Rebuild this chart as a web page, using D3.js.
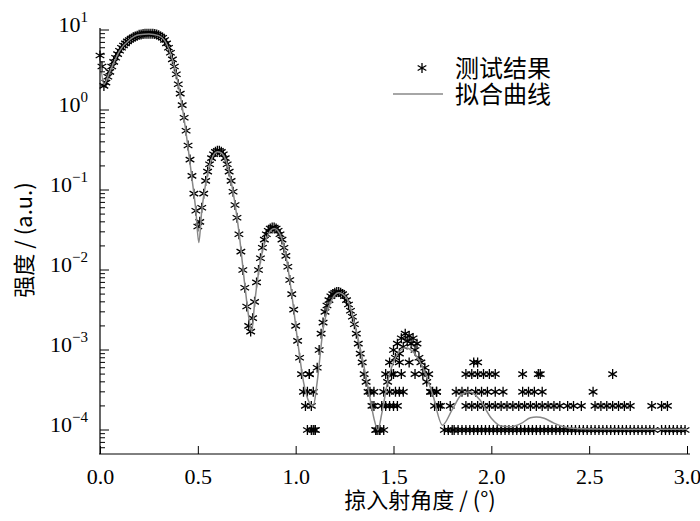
<!DOCTYPE html>
<html>
<head>
<meta charset="utf-8">
<script src="https://cdn.jsdelivr.net/npm/d3@7"></script>
<style>
  body { margin: 0; background: #fff; }
  text { font-family: "Liberation Serif", serif; }
  .cjk { font-family: "Noto Sans CJK SC", sans-serif; }
</style>
</head>
<body>
<svg></svg>
<script>
// canvas
const w = 700, h = 521;
const plotLeft = 100, plotRight = 687, plotTop = 30, plotBottom = 454;

// measured data: x (deg), intensity (a.u.)
const dataX = [0.00,0.01,0.02,0.03,0.04,0.05,0.06,0.07,0.08,0.09,0.10,0.11,0.12,0.13,0.14,0.15,0.16,0.17,0.18,0.19,
  0.20,0.21,0.22,0.23,0.24,0.25,0.26,0.27,0.28,0.29,0.30,0.31,0.32,0.33,0.34,0.35,0.36,0.37,0.38,0.39,
  0.40,0.41,0.42,0.43,0.44,0.45,0.46,0.47,0.48,0.49,0.50,0.51,0.52,0.53,0.54,0.55,0.56,0.57,0.58,0.59,
  0.60,0.61,0.62,0.63,0.64,0.65,0.66,0.67,0.68,0.69,0.70,0.71,0.72,0.73,0.74,0.75,0.76,0.77,0.78,0.79,
  0.80,0.81,0.82,0.83,0.84,0.85,0.86,0.87,0.88,0.89,0.90,0.91,0.92,0.93,0.94,0.95,0.96,0.97,0.98,0.99,
  1.00,1.01,1.02,1.03,1.04,1.05,1.06,1.07,1.08,1.09,1.10,1.11,1.12,1.13,1.14,1.15,1.16,1.17,1.18,1.19,
  1.20,1.21,1.22,1.23,1.24,1.25,1.26,1.27,1.28,1.29,1.30,1.31,1.32,1.33,1.34,1.35,1.36,1.37,1.38,1.39,
  1.40,1.41,1.42,1.43,1.44,1.45,1.46,1.47,1.48,1.49,1.50,1.51,1.52,1.53,1.54,1.55,1.56,1.57,1.58,1.59,
  1.60,1.61,1.62,1.63,1.64,1.65,1.66,1.67,1.68,1.69,1.70,1.71,1.72,1.73,1.74];
const dataY = [4.8,3.5,2.0,2.2,2.6,3.0,3.5,4.0,4.5,5.0,5.5,6.0,6.4,6.8,7.2,7.5,7.8,8.1,8.3,8.5,
  8.7,8.8,8.9,9.0,9.0,9.0,9.0,9.0,8.9,8.8,8.6,8.3,8.0,7.5,6.8,6.0,5.2,4.3,3.5,2.8,
  2.1,1.6,1.15,0.8,0.55,0.36,0.24,0.15,0.09,0.055,0.035,0.04,0.06,0.09,0.13,0.17,0.21,0.25,0.28,0.30,
  0.31,0.31,0.30,0.28,0.25,0.21,0.17,0.13,0.095,0.065,0.045,0.028,0.017,0.01,0.006,0.0035,0.002,0.0017,0.0025,0.004,
  0.007,0.01,0.014,0.019,0.024,0.028,0.031,0.033,0.034,0.034,0.033,0.031,0.028,0.024,0.019,0.015,0.011,0.0075,0.005,0.0032,
  0.002,0.0013,0.0008,0.0005,0.0003,0.0002,0.0003,0.0005,0.0002,0.0001,0.0001,0.0006,0.001,0.0016,0.0022,0.003,0.0036,0.0042,0.0047,0.005,
  0.0052,0.0053,0.0053,0.0052,0.005,0.0047,0.0042,0.0037,0.0031,0.0026,0.0021,0.0016,0.0012,0.0009,0.0007,0.0005,0.0004,0.0003,0.0003,0.0002,
  0.0002,0.0001,0.0001,0.0001,0.0002,0.0003,0.0005,0.0004,0.0007,0.0005,0.001,0.0008,0.0012,0.0009,0.0014,0.0011,0.0016,0.0013,0.0015,0.0012,
  0.0014,0.001,0.0012,0.0008,0.0007,0.0005,0.0006,0.0004,0.0005,0.0003,0.0003,0.0002,0.0003,0.0002,0.0002];

// noisy tail, read row by row (x values at each level)
const tail1e4 = [1.06,1.08,1.10,1.41,1.43,1.45,1.76,1.78,1.80,1.81,1.83,1.85,1.87,1.89,1.91,1.93,1.95,1.97,1.99,
  2.01,2.03,2.05,2.07,2.09,2.11,2.13,2.15,2.17,2.19,2.21,2.23,2.25,2.27,2.29,2.31,2.33,2.35,2.37,2.39,
  2.41,2.43,2.45,2.47,2.49,2.51,2.53,2.55,2.57,2.59,2.61,2.63,2.65,2.67,2.69,2.71,2.73,2.75,2.77,2.79,
  2.81,2.83,2.87,2.89,2.91,2.93,2.95,2.97,2.99];
const tail2e4 = [1.46,1.48,1.50,1.52,1.79,1.87,1.90,1.93,1.96,1.99,2.02,2.05,2.08,2.11,2.14,2.17,2.20,2.23,2.26,2.29,
  2.32,2.35,2.39,2.42,2.46,2.53,2.56,2.59,2.62,2.65,2.68,2.71,2.82,2.87,2.90];
const tail3e4 = [1.09,1.40,1.48,1.51,1.53,1.55,1.69,1.72,1.82,1.85,1.88,1.92,1.95,1.98,2.02,2.06,2.16,2.19,2.22,2.26,2.52];
const tail5e4 = [1.07,1.50,1.54,1.61,1.87,1.90,1.93,1.96,1.99,2.02,2.16,2.24,2.25,2.62];
const tail7e4 = [1.53,1.58,1.91,1.93];

// fitted curve
const fitX = [0.00,0.02,0.05,0.10,0.15,0.20,0.25,0.30,0.33,0.36,0.39,0.42,0.45,0.47,0.49,0.505,0.52,0.54,0.57,0.60,
  0.62,0.65,0.68,0.71,0.74,0.76,0.775,0.79,0.82,0.86,0.89,0.92,0.95,0.98,1.01,1.04,1.07,1.09,1.11,1.14,
  1.18,1.22,1.26,1.30,1.34,1.38,1.40,1.42,1.44,1.47,1.51,1.56,1.60,1.65,1.70,1.75,1.80,1.85,1.89,1.94,
  2.00,2.05,2.10,2.15,2.20,2.23,2.27,2.32,2.40,2.50,2.70,3.00];
const fitY = [4.5,2.1,3.0,5.5,7.5,8.7,8.9,8.5,7.4,5.1,2.8,1.1,0.34,0.14,0.055,0.022,0.055,0.12,0.24,0.30,
  0.29,0.21,0.095,0.03,0.0065,0.0026,0.0017,0.0038,0.013,0.028,0.033,0.028,0.015,0.005,0.0013,0.0004,0.00022,0.0002,0.0004,0.0018,
  0.004,0.0052,0.0045,0.0022,0.0008,0.00025,0.00014,0.0001,0.00016,0.0004,0.0008,0.00107,0.00095,0.0006,0.00028,0.000115,0.00018,0.00028,0.0003,0.00024,
  0.00014,0.000112,0.00011,0.00012,0.000142,0.000145,0.00014,0.000122,0.000106,0.000103,0.000102,0.000102];

// tick values
const xTicks = [0.0, 0.5, 1.0, 1.5, 2.0, 2.5, 3.0];
const yExps = [1, 0, -1, -2, -3, -4];

const svg = d3.select("svg").attr("width", w).attr("height", h);

const xScale = d3.scaleLinear().domain([0, 3.0]).range([plotLeft, plotRight]);
const yScale = d3.scaleLog().domain([Math.pow(10, -4.3), 10]).range([plotBottom, plotTop]);

// points
const points = dataX.map((x, i) => [x, dataY[i]]);
tail1e4.forEach(x => points.push([x, 1e-4]));
tail2e4.forEach(x => points.push([x, 2e-4]));
tail3e4.forEach(x => points.push([x, 3e-4]));
tail5e4.forEach(x => points.push([x, 5e-4]));
tail7e4.forEach(x => points.push([x, 7e-4]));

const star = d3.symbol().type(d3.symbolAsterisk).size(70);
svg.append("g").selectAll("path")
   .data(points)
   .enter()
   .append("path")
   .attr("d", star)
   .attr("transform", d => "translate(" + xScale(d[0]) + "," + yScale(d[1]) + ")")
   .attr("fill", "none")
   .attr("stroke", "#000")
   .attr("stroke-width", 1.3);

// fit line
const line = d3.line().x(d => xScale(d[0])).y(d => yScale(d[1])).curve(d3.curveMonotoneX);
svg.append("path")
   .datum(fitX.map((x, i) => [x, fitY[i]]))
   .attr("d", line)
   .attr("fill", "none")
   .attr("stroke", "#888")
   .attr("stroke-width", 1.5);

// x-axis (ticks inward)
const xAxis = d3.axisBottom(xScale).tickValues(xTicks).tickSize(-8).tickPadding(14)
                .tickFormat(d3.format(".1f"));
const gx = svg.append("g").attr("transform", "translate(0," + plotBottom + ")").call(xAxis);
gx.select(".domain").attr("d", "M" + (plotLeft - 1) + ",0H" + (plotRight + 3));
gx.selectAll("text").attr("font-size", 22).attr("font-family", "Liberation Serif");

// y-axis: major and minor ticks inward
const gy = svg.append("g").attr("transform", "translate(" + plotLeft + ",0)");
gy.append("line").attr("x1", 0).attr("x2", 0).attr("y1", plotTop - 2).attr("y2", plotBottom)
  .attr("stroke", "#000").attr("stroke-width", 1.2);
const minors = [];
for (let e = -5; e <= 0; e++) {
  for (let m = 2; m <= 9; m++) {
    const v = m * Math.pow(10, e);
    if (v >= yScale.domain()[0] && v <= 10) minors.push(v);
  }
}
gy.selectAll(".minor").data(minors).enter().append("line")
  .attr("x1", 0).attr("x2", 5).attr("y1", d => yScale(d)).attr("y2", d => yScale(d))
  .attr("stroke", "#000");
gy.selectAll(".major").data(yExps).enter().append("line")
  .attr("x1", 0).attr("x2", 9).attr("y1", d => yScale(Math.pow(10, d))).attr("y2", d => yScale(Math.pow(10, d)))
  .attr("stroke", "#000");
const yl = gy.selectAll(".lab").data(yExps).enter().append("text")
  .attr("x", -12).attr("y", d => yScale(Math.pow(10, d)) + 2)
  .attr("text-anchor", "end").attr("font-size", 22);
yl.append("tspan").text("10");
yl.append("tspan").attr("dy", -10).attr("font-size", 15).text(d => d < 0 ? "\u2212" + (-d) : d);

// axis titles
svg.append("text").attr("class", "cjk").attr("x", 420).attr("y", 508)
   .attr("text-anchor", "middle").attr("font-size", 22).text("掠入射角度 / (°)");
svg.append("text").attr("class", "cjk")
   .attr("transform", "translate(32,240) rotate(-90)")
   .attr("text-anchor", "middle").attr("font-size", 22).text("强度 / (a.u.)");

// legend
svg.append("path").attr("d", d3.symbol().type(d3.symbolAsterisk).size(70))
   .attr("transform", "translate(422,68)").attr("fill", "none").attr("stroke", "#000").attr("stroke-width", 1.3);
svg.append("text").attr("class", "cjk").attr("x", 455).attr("y", 77).attr("font-size", 24).text("测试结果");
svg.append("line").attr("x1", 393).attr("x2", 443).attr("y1", 94).attr("y2", 94)
   .attr("stroke", "#888").attr("stroke-width", 1.5);
svg.append("text").attr("class", "cjk").attr("x", 455).attr("y", 103).attr("font-size", 24).text("拟合曲线");
</script>
</body>
</html>
